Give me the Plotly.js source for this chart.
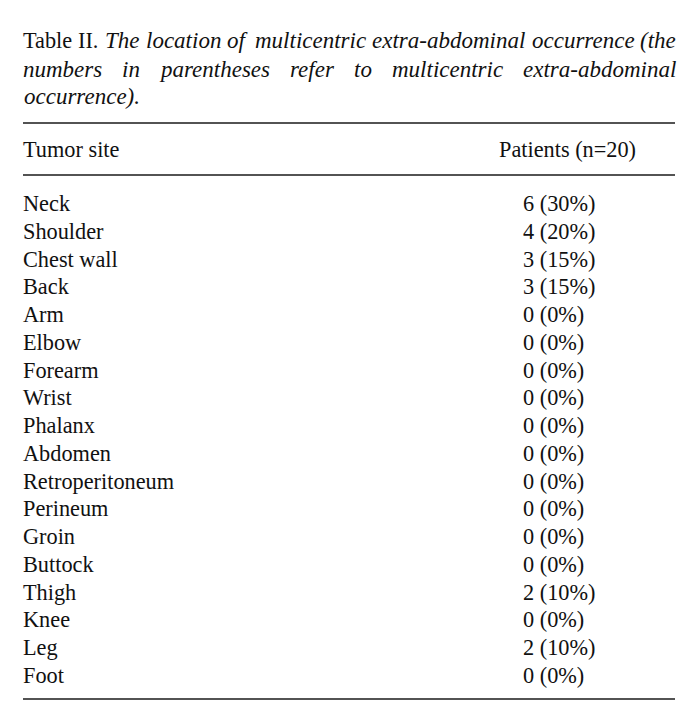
<!DOCTYPE html>
<html>
<head>
<meta charset="utf-8">
<script src="https://cdn.plot.ly/plotly-3.0.1.min.js"></script>
<style>html,body{margin:0;padding:0;background:#fff;}#chart{width:693px;height:728px;}</style>
</head>
<body>
<div id="chart"></div>
<script>
const sites = ["Neck","Shoulder","Chest wall","Back","Arm","Elbow","Forearm","Wrist","Phalanx","Abdomen","Retroperitoneum","Perineum","Groin","Buttock","Thigh","Knee","Leg","Foot"];
const counts = [6,4,3,3,0,0,0,0,0,0,0,0,0,0,2,0,2,0];
const percents = [30,20,15,15,0,0,0,0,0,0,0,0,0,0,10,0,10,0];
const headers = ["Tumor site","Patients (n=20)"];
const titleLabel = "Table II.";
const titleLines = [
  "The location of multicentric extra-abdominal occurrence (the",
  "numbers in parentheses refer to multicentric extra-abdominal",
  "occurrence)."
];

const W = 693, H = 728;
const FONT = "Liberation Serif";
const FS = 22.3;
const TFS = 23;
const LEFT = 23, RIGHT = 675, TRIGHT = 676;
const ROW0 = 205.5, ROWH = 27.76;
const COL2 = 523;

const valueLabels = counts.map((c,i) => c + " (" + percents[i] + "%)");

const yTop = (0 - ROW0) / ROWH;
const yBot = (H - ROW0) / ROWH;

const txtFont = {family: FONT, size: FS, color: "#111"};

const traces = [
  {type:"scatter", mode:"text", x: sites.map(()=>LEFT), y: sites, text: sites,
   textposition:"middle right", textfont: txtFont, hoverinfo:"skip", showlegend:false, cliponaxis:false},
  {type:"scatter", mode:"text", x: sites.map(()=>COL2), y: sites, text: valueLabels,
   textposition:"middle right", textfont: txtFont, hoverinfo:"skip", showlegend:false, cliponaxis:false}
];

function py(p){ return 1 - p / H; }

const annotations = [];
function addText(s, x, yPx, italic, size){
  annotations.push({xref:"x", yref:"paper", x:x, y:py(yPx), xanchor:"left", yanchor:"middle",
    text: italic ? "<i>"+s+"</i>" : s, showarrow:false, font:{family:FONT,size:size||FS,color:"#111"}});
  return annotations.length - 1;
}
const titleY = [40, 69, 97];
const lines = [];
// line 1: upright label + italic words (justified after measuring)
const l1 = titleLabel.split(" ").concat(titleLines[0].split(" "));
lines.push(l1.map((w,i)=> addText(w, LEFT - 2 + i*60, titleY[0], i >= 2, i >= 2 ? TFS : FS)));
// line 2: justified italic words
const l2 = titleLines[1].split(" ");
lines.push(l2.map((w,i)=> addText(w, LEFT - 2 + i*80, titleY[1], true, TFS)));
addText(titleLines[2], LEFT - 1, titleY[2], true, TFS);

addText(headers[0], LEFT - 2, 150, false);
addText(headers[1], 499 - 2, 150, false);

const shapes = [123, 175, 699].map(p => ({type:"line", xref:"x", yref:"paper", x0:LEFT, x1:RIGHT, y0:py(p), y1:py(p), line:{color:"#1a1a1a", width:1.6}}));

const layout = {
  width: W, height: H,
  margin:{l:0,r:0,t:0,b:0,pad:0},
  paper_bgcolor:"#fff", plot_bgcolor:"#fff",
  xaxis:{range:[0,W], visible:false, fixedrange:true},
  yaxis:{type:"category", categoryorder:"array", categoryarray:sites, range:[yBot, yTop], visible:false, fixedrange:true},
  shapes: shapes, annotations: annotations, showlegend:false
};
const gd = document.getElementById("chart");
Plotly.newPlot(gd, traces, layout, {staticPlot:true, displayModeBar:false}).then(() => {
  const widths = {};
  gd.querySelectorAll("g.annotation").forEach(g => {
    const idx = +g.getAttribute("data-index");
    const t = g.querySelector(".annotation-text");
    if (t) widths[idx] = t.getBBox().width;
  });
  const upd = {};
  lines.forEach(idxs => {
    const total = idxs.reduce((a,i)=>a + widths[i], 0);
    const gap = (TRIGHT - LEFT - total) / (idxs.length - 1);
    let x = LEFT - 2;
    idxs.forEach(i => { upd["annotations[" + i + "].x"] = x; x += widths[i] + gap; });
  });
  return Plotly.relayout(gd, upd);
});
</script>
</body>
</html>
